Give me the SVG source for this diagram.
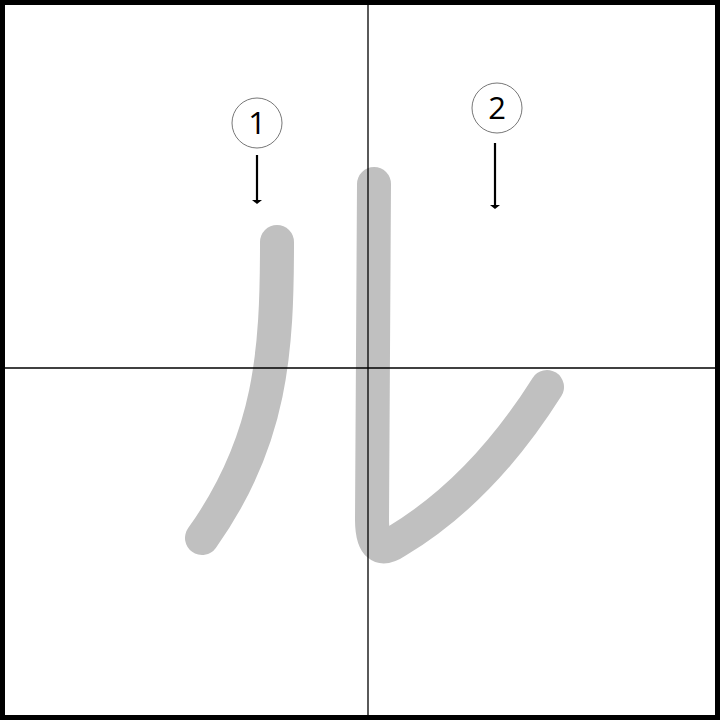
<svg xmlns="http://www.w3.org/2000/svg" width="720" height="720" viewBox="0 0 720 720">
<style>
.frame{fill:#fff;stroke:#000;stroke-width:5}
.grid{stroke:#000;stroke-width:1.3;fill:none}
.stroke{fill:none;stroke:#c0c0c0;stroke-width:34;stroke-linecap:round;stroke-linejoin:round}
.num{fill:#fff;stroke:#777;stroke-width:1}
.lbl{font-family:"Open Sans","Noto Sans",sans-serif;font-size:31px;fill:#000;text-anchor:middle}
.arr{stroke:#000;stroke-width:2.2;fill:none}
</style>
<rect class="frame" x="2.5" y="2.5" width="715" height="715"/>
<g id="strokes">
<path class="stroke" d="M277,242 C277,350 272,440 202,538"/>
<path class="stroke" d="M374,184 L372,520 Q372,558 397,541 Q482,490 547,387"/>
</g>
<g id="grid">
<line class="grid" x1="368" y1="5" x2="368" y2="715"/>
<line class="grid" x1="5" y1="368" x2="715" y2="368"/>
</g>
<g id="connectors">
<line class="arr" x1="257" y1="155" x2="257" y2="201"/>
<path d="M252,200 L262,200 L257,204 Z" fill="#000"/>
<line class="arr" x1="495" y1="143" x2="495" y2="206"/>
<path d="M490,205 L500,205 L495,209 Z" fill="#000"/>
</g>
<g id="n1">
<circle class="num" cx="257" cy="123" r="25"/>
<text class="lbl" x="257" y="134">1</text>
</g>
<g id="n2">
<circle class="num" cx="497" cy="108" r="25"/>
<text class="lbl" x="497" y="119">2</text>
</g>
</svg>
